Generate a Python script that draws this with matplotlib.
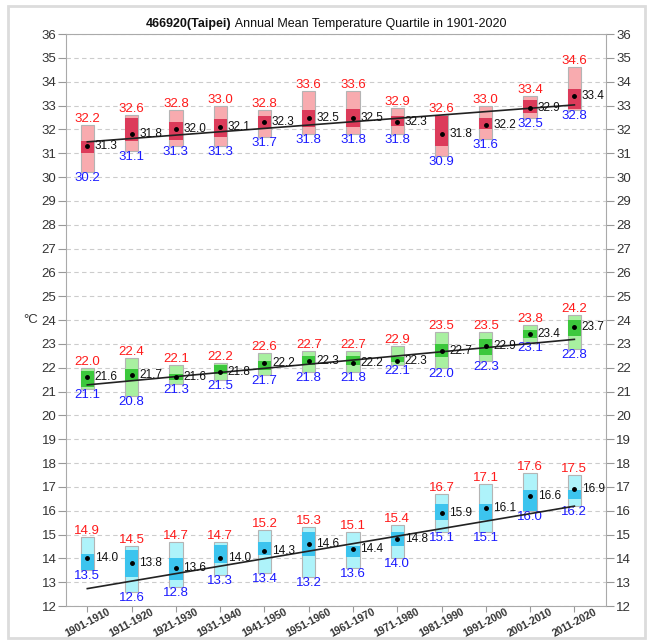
import numpy as np
import matplotlib.pyplot as plt
from matplotlib.patches import Rectangle

plt.rcParams['font.family'] = ['Liberation Sans', 'DejaVu Sans']

decades = ['1901-1910', '1911-1920', '1921-1930', '1931-1940', '1941-1950', '1951-1960',
           '1961-1970', '1971-1980', '1981-1990', '1991-2000', '2001-2010', '2011-2020']

# daily maximum series
tmax_max = [32.2, 32.6, 32.8, 33.0, 32.8, 33.6, 33.6, 32.9, 32.6, 33.0, 33.4, 34.6]
tmax_q3 = [31.5, 32.5, 32.3, 32.45, 32.55, 32.8, 32.85, 32.55, 32.55, 32.5, 33.25, 33.7]
tmax_mid = [31.3, 31.8, 32.0, 32.1, 32.3, 32.5, 32.5, 32.3, 31.8, 32.2, 32.9, 33.4]
tmax_q1 = [31.0, 31.5, 31.55, 31.7, 32.05, 32.1, 32.1, 32.15, 31.3, 32.0, 32.7, 32.85]
tmax_min = [30.2, 31.1, 31.3, 31.3, 31.7, 31.8, 31.8, 31.8, 30.9, 31.6, 32.5, 32.8]
tmax_trend = [31.48, 33.03]

# daily mean series
tavg_max = [22.0, 22.4, 22.1, 22.2, 22.6, 22.7, 22.7, 22.9, 23.5, 23.5, 23.8, 24.2]
tavg_q3 = [21.85, 21.95, 21.75, 22.1, 22.3, 22.5, 22.5, 22.45, 23.0, 23.2, 23.6, 24.0]
tavg_mid = [21.6, 21.7, 21.6, 21.8, 22.2, 22.3, 22.2, 22.3, 22.7, 22.9, 23.4, 23.7]
tavg_q1 = [21.2, 21.45, 21.5, 21.75, 21.9, 22.1, 22.1, 22.25, 22.45, 22.55, 23.25, 23.35]
tavg_min = [21.1, 20.8, 21.3, 21.5, 21.7, 21.8, 21.8, 22.1, 22.0, 22.3, 23.1, 22.8]
tavg_trend = [21.28, 23.19]

# daily minimum series
tmin_max = [14.9, 14.5, 14.7, 14.7, 15.2, 15.3, 15.1, 15.4, 16.7, 17.1, 17.6, 17.5]
tmin_q3 = [14.2, 14.35, 14.0, 14.55, 14.7, 15.1, 14.5, 15.1, 16.3, 16.3, 16.85, 16.85]
tmin_mid = [14.0, 13.8, 13.6, 14.0, 14.3, 14.6, 14.4, 14.8, 15.9, 16.1, 16.6, 16.9]
tmin_q1 = [13.5, 13.2, 13.1, 13.8, 14.15, 14.1, 14.05, 14.5, 15.6, 15.6, 16.0, 16.5]
tmin_min = [13.5, 12.6, 12.8, 13.3, 13.4, 13.2, 13.6, 14.0, 15.1, 15.1, 16.0, 16.2]
tmin_trend = [12.73, 16.19]

series = [
    (tmax_max, tmax_q3, tmax_mid, tmax_q1, tmax_min, tmax_trend, '#f8abaf', '#dc3b5a'),
    (tavg_max, tavg_q3, tavg_mid, tavg_q1, tavg_min, tavg_trend, '#a8f0a0', '#3cc83c'),
    (tmin_max, tmin_q3, tmin_mid, tmin_q1, tmin_min, tmin_trend, '#aef3fa', '#3cc4ee'),
]

fig = plt.figure(figsize=(6.54, 6.44), dpi=100)
ax = fig.add_axes([0.101, 0.059, 0.826, 0.888])
fig.patches.append(Rectangle((8 / 654, 6 / 644), 637 / 654, 632 / 644, transform=fig.transFigure,
                             fill=False, edgecolor='#dcdcdc', linewidth=2))

x = np.arange(1, len(decades) + 1)
w = 0.3
for vmax, q3, mid, q1, vmin, trend, light, dark in series:
    for i in range(len(x)):
        ax.add_patch(Rectangle((x[i] - w / 2, vmin[i]), w, vmax[i] - vmin[i],
                               facecolor=light, edgecolor='#b4b4b4', linewidth=0.8, zorder=2))
        ax.add_patch(Rectangle((x[i] - w / 2, q1[i]), w, q3[i] - q1[i],
                               facecolor=dark, edgecolor='none', zorder=3))
        ax.annotate(f'{vmax[i]:.1f}', (x[i], vmax[i]), xytext=(0, 0), textcoords='offset points',
                    ha='center', va='bottom', color='#ff1a1a', fontsize=9.5)
        ax.annotate(f'{vmin[i]:.1f}', (x[i], vmin[i]), xytext=(0, 0), textcoords='offset points',
                    ha='center', va='top', color='#1a1aff', fontsize=9.5)
        ax.text(x[i] + w / 2 + 0.02, mid[i], f'{mid[i]:.1f}', ha='left', va='center',
                fontsize=8.5, color='#111111', zorder=5)
    ax.plot(x, mid, 'o', color='black', markersize=2.5, zorder=6)
    ax.plot([x[0], x[-1]], trend, color='#222222', linewidth=1.2, zorder=4)

ax.set_xlim(0.52, 12.72)
ax.set_ylim(12, 36)
ax.set_yticks(range(12, 37))
ax.set_xticks(x)
ax.set_xticklabels(decades, rotation=28, rotation_mode='anchor', ha='center', va='center',
                   fontsize=7.5, fontweight='bold', color='#333333')
ax.tick_params(axis='y', which='both', left=True, right=True, labelleft=True, labelright=True,
               direction='out', length=6, color='#999999', labelsize=9.5, labelcolor='#333333', pad=1)
ax.tick_params(axis='x', direction='out', length=4, color='#999999', pad=8)
ax.grid(axis='y', linestyle=(0, (4, 3)), color='#cccccc', linewidth=0.8)
ax.set_axisbelow(True)
for s in ax.spines.values():
    s.set_color('#aaaaaa')

ax.text(-0.065, 24, '°C', transform=ax.get_yaxis_transform(), ha='center', va='center',
        fontsize=9.5, color='#333333')

t1 = fig.text(146 / 654, 1 - 24 / 644, '466920(Taipei)', fontsize=9, fontweight='bold',
              ha='left', va='center', color='#111111')
ax.annotate(' Annual Mean Temperature Quartile in 1901-2020', xy=(1, 0.5), xycoords=t1,
            ha='left', va='center', fontsize=9, color='#111111', annotation_clip=False)

fig.savefig('out.png', dpi=100)
